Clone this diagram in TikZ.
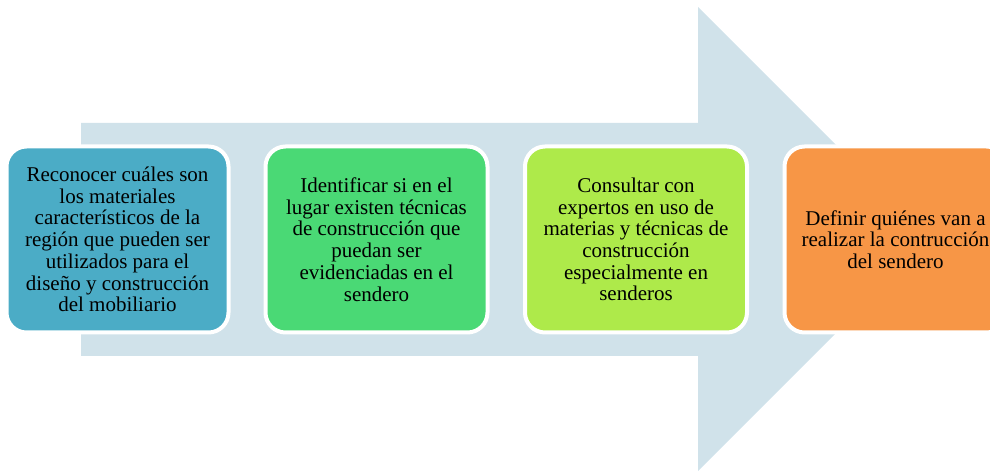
\documentclass[tikz,border=0pt]{standalone}
\usepackage{fontspec}
\setmainfont{Liberation Serif}
\usepackage{tikz}
\usetikzlibrary{positioning}

\definecolor{flecha}{RGB}{208,226,234}
\definecolor{pasoazul}{RGB}{75,172,198}
\definecolor{pasoverde}{RGB}{74,217,117}
\definecolor{pasolima}{RGB}{174,234,74}
\definecolor{pasonaranja}{RGB}{247,150,70}

\tikzset{
  paso/.style={rounded corners=20pt,draw=white,line width=4pt,
    minimum width=222pt,minimum height=186pt,inner sep=0pt,
    align=center,font=\fontsize{21}{21.7}\selectfont,text=black}
}

\begin{document}
\begin{tikzpicture}[x=1pt,y=1pt]
      \useasboundingbox (0,0) rectangle (990,471);
      \clip (0,0) rectangle (990,471);
      % flecha de fondo
      \fill[flecha] (81,348) -- (698,348) -- (698,464) -- (930,232)
        -- (698,0) -- (698,115) -- (81,115) -- cycle;
      \node[paso,fill=pasoazul] (materiales) at (117.5,231.5) {Reconocer cuáles son\\los materiales\\característicos de la\\región que pueden ser\\utilizados para el\\diseño y construcción\\del mobiliario};
      \node[paso,fill=pasoverde] (tecnicas) at (376.5,231.5) {Identificar si en el\\lugar existen técnicas\\de construcción que\\puedan ser\\evidenciadas en el\\sendero};
      \node[paso,fill=pasolima] (expertos) at (636,231.5) {Consultar con\\expertos en uso de\\materias y técnicas de\\construcción\\especialmente en\\senderos};
      \node[paso,fill=pasonaranja] (sendero) at (895.5,231.5) {Definir quiénes van a\\realizar la contrucción\\del sendero};
    \end{tikzpicture}
\end{document}
